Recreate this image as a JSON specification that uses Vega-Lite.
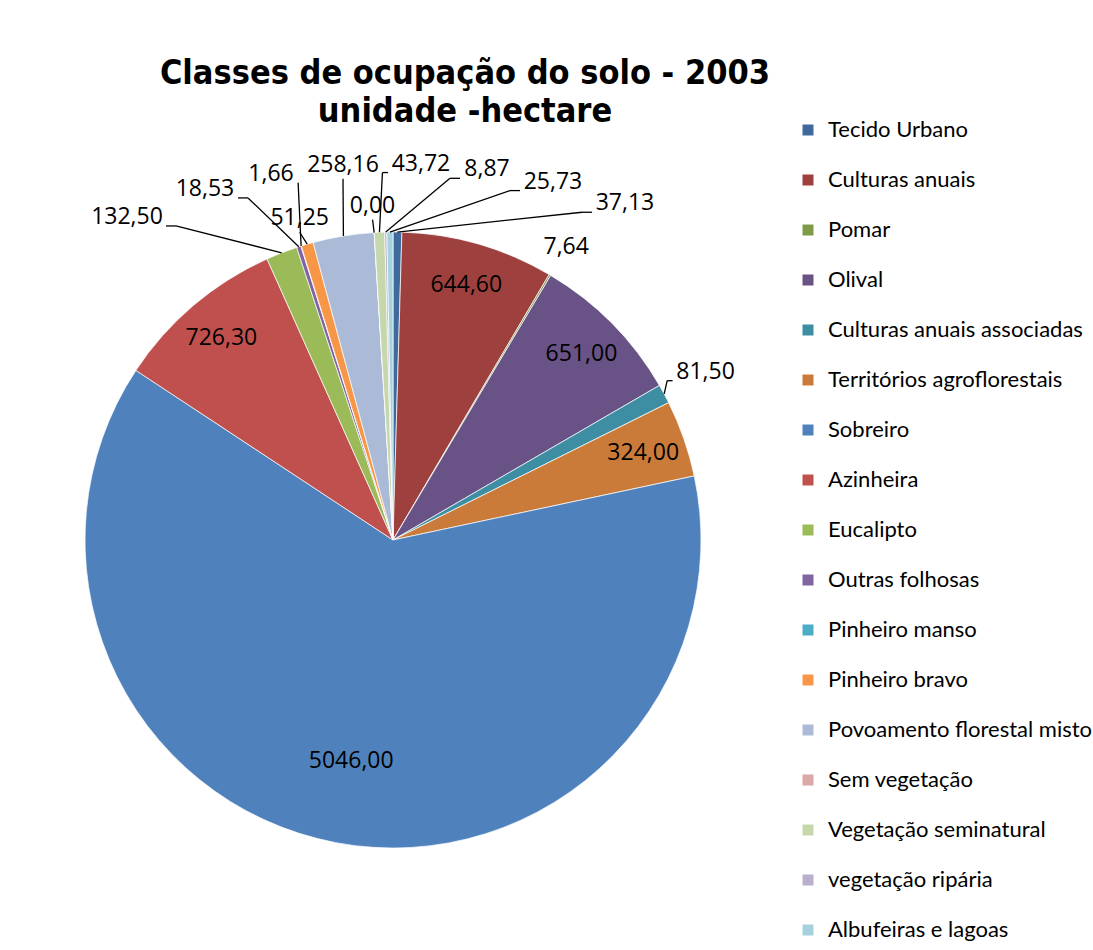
{
  "$schema": "https://vega.github.io/schema/vega-lite/v6.json",
  "autosize": {"type": "none"},
  "width": 616,
  "height": 616,
  "padding": {"left": 85, "top": 232, "right": 392, "bottom": 102},
  "background": "#ffffff",
  "title": {
    "text": ["Classes de ocupação do solo - 2003", "unidade -hectare"],
    "font": "DejaVu Sans Condensed",
    "fontSize": 34,
    "fontWeight": "bold",
    "color": "#000000",
    "anchor": "middle",
    "frame": "group",
    "dx": 72,
    "dy": 110,
    "offset": 100,
    "lineHeight": 38
  },
  "data": {
    "values": [
      {"name": "Tecido Urbano", "value": 37.13, "i": 0},
      {"name": "Culturas anuais", "value": 644.6, "i": 1},
      {"name": "Pomar", "value": 7.64, "i": 2},
      {"name": "Olival", "value": 651, "i": 3},
      {"name": "Culturas anuais associadas", "value": 81.5, "i": 4},
      {"name": "Territórios agroflorestais", "value": 324, "i": 5},
      {"name": "Sobreiro", "value": 5046, "i": 6},
      {"name": "Azinheira", "value": 726.3, "i": 7},
      {"name": "Eucalipto", "value": 132.5, "i": 8},
      {"name": "Outras folhosas", "value": 18.53, "i": 9},
      {"name": "Pinheiro manso", "value": 1.66, "i": 10},
      {"name": "Pinheiro bravo", "value": 51.25, "i": 11},
      {"name": "Povoamento florestal misto", "value": 258.16, "i": 12},
      {"name": "Sem vegetação", "value": 0, "i": 13},
      {"name": "Vegetação seminatural", "value": 43.72, "i": 14},
      {"name": "vegetação ripária", "value": 8.87, "i": 15},
      {"name": "Albufeiras e lagoas", "value": 25.73, "i": 16}
    ]
  },
  "transform": [
    {"joinaggregate": [{"op": "sum", "field": "value", "as": "total"}]},
    {"window": [{"op": "sum", "field": "value", "as": "cum"}], "sort": [{"field": "i", "order": "ascending"}], "frame": [null, 0]},
    {"calculate": "2*PI*(datum.cum - datum.value/2)/datum.total", "as": "mid"},
    {"calculate": "308*sin(datum.mid)", "as": "ex"},
    {"calculate": "308*cos(datum.mid)", "as": "ey"},
    {"calculate": "(datum.i >= 8 || datum.i == 0) ? (datum.i + 9) % 17 : -1", "as": "k"},
    {"calculate": "datum.k >= 0 && datum.k != 3 && datum.k != 5", "as": "upper"},
    {"calculate": "replace(format(datum.value, '.2f'), '.', ',')", "as": "lab"},
    {"calculate": "6.0*length(datum.lab)", "as": "hw"},
    {"calculate": "datum.upper ? 2*datum.hw + 12 : 0", "as": "wu"},
    {"window": [{"op": "sum", "field": "wu", "as": "cw"}], "sort": [{"field": "k", "order": "ascending"}], "frame": [null, 0]},
    {"calculate": "datum.value > 2000 ? 225 : datum.value >= 300 ? 265 : datum.i == 2 ? 340 : datum.i == 4 ? 355 : 335", "as": "lr"},
    {"calculate": "datum.upper ? -302 + datum.cw - 12 - datum.hw : datum.lr*sin(datum.mid)", "as": "lx"},
    {"calculate": "datum.upper ? 377*sqrt(max(0, 1 - pow(datum.lx/516, 2))) : datum.lr*cos(datum.mid)", "as": "ly"},
    {"calculate": "datum.ex - datum.lx", "as": "ddx"},
    {"calculate": "datum.ddx < 0 ? -1 : 1", "as": "s"},
    {"calculate": "abs(datum.ddx) > datum.hw", "as": "side"},
    {"calculate": "datum.side ? datum.lx + datum.s*(datum.hw + 3) : datum.lx", "as": "ax"},
    {"calculate": "datum.side ? datum.ly - 9 : datum.ly - 14", "as": "ay"},
    {"calculate": "datum.side ? datum.lx + datum.s*(datum.hw + 3 + min(10, max(0, abs(datum.ddx) - datum.hw - 6))) : datum.lx", "as": "tx"},
    {"calculate": "datum.k >= 0 || datum.i == 4", "as": "leader"}
  ],
  "layer": [
    {
      "mark": {"type": "arc", "stroke": "#ffffff", "strokeWidth": 0.7},
      "encoding": {
        "theta": {"field": "value", "type": "quantitative", "stack": true},
        "order": {"field": "i", "type": "quantitative"},
        "color": {
          "field": "name",
          "type": "nominal",
          "scale": {
            "domain": ["Tecido Urbano", "Culturas anuais", "Pomar", "Olival", "Culturas anuais associadas", "Territórios agroflorestais", "Sobreiro", "Azinheira", "Eucalipto", "Outras folhosas", "Pinheiro manso", "Pinheiro bravo", "Povoamento florestal misto", "Sem vegetação", "Vegetação seminatural", "vegetação ripária", "Albufeiras e lagoas"],
            "range": ["#406A9B", "#9E413E", "#7F9A48", "#695286", "#3D8DA3", "#CB7B39", "#4F81BD", "#C0504D", "#9BBB59", "#8064A2", "#4BACC6", "#F79646", "#AABAD7", "#DBA8A7", "#C6D7AC", "#B9AECB", "#A6D2DF"]
          },
          "legend": {
            "title": null,
            "orient": "none",
            "legendX": 712,
            "legendY": -113,
            "padding": 0,
            "symbolType": "square",
            "symbolSize": 121,
            "symbolStrokeWidth": 0,
            "labelFont": "Lato",
            "labelFontSize": 22,
            "labelColor": "#000000",
            "labelOffset": 9,
            "labelLimit": 400,
            "rowPadding": 28
          }
        }
      }
    },
    {
      "transform": [{"filter": "datum.leader"}],
      "mark": {"type": "rule", "color": "#000000", "strokeWidth": 1.3},
      "encoding": {
        "x": {"field": "ex", "type": "quantitative", "scale": {"domain": [-308, 308], "nice": false, "zero": false}, "axis": null},
        "y": {"field": "ey", "type": "quantitative", "scale": {"domain": [-308, 308], "nice": false, "zero": false}, "axis": null},
        "x2": {"field": "tx"},
        "y2": {"field": "ay"}
      }
    },
    {
      "transform": [{"filter": "datum.leader && datum.side"}],
      "mark": {"type": "rule", "color": "#000000", "strokeWidth": 1.3},
      "encoding": {
        "x": {"field": "tx", "type": "quantitative", "scale": {"domain": [-308, 308], "nice": false, "zero": false}, "axis": null},
        "y": {"field": "ay", "type": "quantitative", "scale": {"domain": [-308, 308], "nice": false, "zero": false}, "axis": null},
        "x2": {"field": "ax"},
        "y2": {"field": "ay"}
      }
    },
    {
      "mark": {"type": "text", "font": "Open Sans", "fontSize": 23, "color": "#000000", "align": "center", "baseline": "middle"},
      "encoding": {
        "x": {"field": "lx", "type": "quantitative", "scale": {"domain": [-308, 308], "nice": false, "zero": false}, "axis": null},
        "y": {"field": "ly", "type": "quantitative", "scale": {"domain": [-308, 308], "nice": false, "zero": false}, "axis": null},
        "text": {"field": "lab"}
      }
    }
  ],
  "config": {"view": {"stroke": null}}
}
